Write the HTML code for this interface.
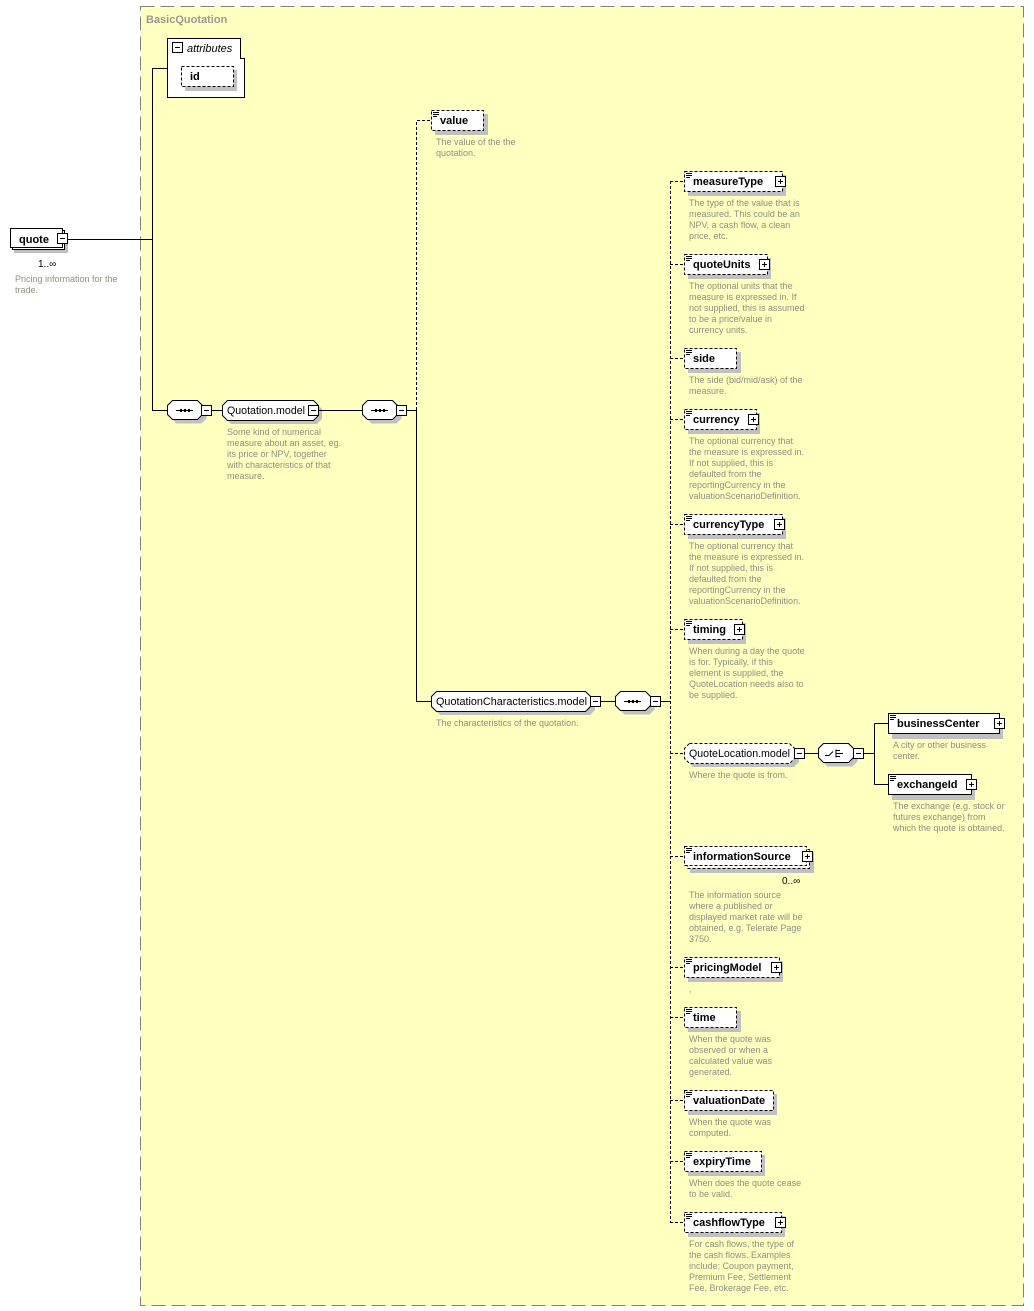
<!DOCTYPE html>
<html><head><meta charset="utf-8">
<style>
html,body{margin:0;padding:0;background:#fff;}
svg{display:block;}
.n{font:bold 11px "Liberation Sans",sans-serif;fill:#000;}
.m{font:11px "Liberation Sans",sans-serif;fill:#000;}
.d{font:9px "Liberation Sans",sans-serif;fill:#8f8f80;}
.sh{fill:#c0c0c0;}
.bx{fill:#fff;stroke:#000;stroke-width:1;}
.dash{stroke-dasharray:3,2;}
.ln{stroke:#000;stroke-width:1;fill:none;}
</style></head><body>
<svg width="1034" height="1311" viewBox="0 0 1034 1311" xmlns="http://www.w3.org/2000/svg">
<defs>
<g id="pl"><rect x="0.5" y="0.5" width="10" height="10" fill="#fff" stroke="#000"/><path d="M3 5.5h5M5.5 3v5" stroke="#000"/></g>
<g id="mi"><rect x="0.5" y="0.5" width="10" height="10" fill="#fff" stroke="#000"/><path d="M3 5.5h5" stroke="#000"/></g>
<g id="ic"><path d="M0 0.5h6M0 2.5h6M0 4.5h4" stroke="#000"/></g>
<g id="seq"><path d="M5.5,0.5 H30.5 L35.5,5.5 V14.5 L30.5,19.5 H5.5 L0.5,14.5 V5.5 Z"/></g>
</defs>
<rect x="140.5" y="6.5" width="883" height="1299" fill="#ffffc0" stroke="#808080" stroke-dasharray="14,6"/>
<text x="146" y="23" style="font:bold 11px 'Liberation Sans',sans-serif;fill:#999">BasicQuotation</text>

<rect x="14" y="233" width="54" height="20" class="sh"/>
<rect x="12.5" y="230.5" width="52" height="19" class="bx"/>
<rect x="10.5" y="228.5" width="52" height="19" class="bx"/>
<text x="19" y="243" class="n">quote</text>
<use href="#mi" x="57" y="233"/>
<text x="38" y="267" class="m" style="font-size:10px">1..∞</text>
<text x="15" y="282" class="d">Pricing information for the</text>
<text x="15" y="293" class="d">trade.</text>

<path d="M68 239.5H152.5M152.5 68V410.5H167M152.5 68.5H167" class="ln"/>

<path d="M167.5 38.5H240.5V58.5H244.5V97.5H167.5Z" class="bx"/>
<use href="#mi" x="172" y="42"/>
<text x="187" y="52" style="font:italic 11px 'Liberation Sans',sans-serif">attributes</text>
<rect x="185" y="70" width="52" height="21" class="sh"/>
<rect x="181.5" y="66.5" width="52" height="20" class="bx dash"/>
<text x="190" y="80" class="n">id</text>

<g transform="translate(171,404)" class="sh"><use href="#seq"/></g>
<g transform="translate(167,400)" class="bx"><use href="#seq"/></g>
<path d="M176 410.5h17" stroke="#000"/><path d="M180 410.5h2M184 410.5h2M188 410.5h2" stroke="#000" stroke-width="3"/>
<use href="#mi" x="201" y="405"/>
<path d="M211 410.5H222" class="ln"/>
<g transform="translate(226,404)"><path class="sh" d="M5,0 H91 L96,5 V15 L91,20 H5 L0,15 V5 Z"/></g>
<path class="bx" d="M227.5,400.5 H313.5 L318.5,405.5 V415.5 L313.5,420.5 H227.5 L222.5,415.5 V405.5 Z"/>
<text x="227" y="414" class="m" textLength="78" lengthAdjust="spacingAndGlyphs">Quotation.model</text>
<use href="#mi" x="308" y="405"/>
<text x="227" y="435" class="d">Some kind of numerical</text>
<text x="227" y="446" class="d">measure about an asset, eg.</text>
<text x="227" y="457" class="d">its price or NPV, together</text>
<text x="227" y="468" class="d">with characteristics of that</text>
<text x="227" y="479" class="d">measure.</text>
<path d="M319 410.5H362" class="ln"/>
<g transform="translate(366,404)" class="sh"><use href="#seq"/></g>
<g transform="translate(362,400)" class="bx"><use href="#seq"/></g>
<path d="M371 410.5h17" stroke="#000"/><path d="M375 410.5h2M379 410.5h2M383 410.5h2" stroke="#000" stroke-width="3"/>
<use href="#mi" x="396" y="405"/>
<path d="M407 410.5H416.5V701.5H431" class="ln"/>
<path d="M416.5 410V120.5H431" class="ln dash"/>

<rect x="435" y="114" width="53" height="21" class="sh"/>
<rect x="431.5" y="110.5" width="52" height="20" class="bx dash"/>
<use href="#ic" x="433" y="112"/>
<text x="440" y="124" class="n">value</text>
<text x="436" y="145" class="d">The value of the the</text>
<text x="436" y="156" class="d">quotation.</text>

<path class="sh" d="M440,695 H590 L595,700 V710 L590,715 H440 L435,710 V700 Z"/>
<path class="bx" d="M436.5,691.5 H585.5 L590.5,696.5 V706.5 L585.5,711.5 H436.5 L431.5,706.5 V696.5 Z"/>
<text x="436" y="705" class="m" textLength="151" lengthAdjust="spacingAndGlyphs">QuotationCharacteristics.model</text>
<use href="#mi" x="590" y="696"/>
<text x="436" y="726" class="d">The characteristics of the quotation.</text>
<path d="M601 701.5H615" class="ln"/>
<g transform="translate(619,695)" class="sh"><use href="#seq"/></g>
<g transform="translate(615,691)" class="bx"><use href="#seq"/></g>
<path d="M624 701.5h17" stroke="#000"/><path d="M628 701.5h2M632 701.5h2M636 701.5h2" stroke="#000" stroke-width="3"/>
<use href="#mi" x="650" y="696"/>
<path d="M661 701.5H670.5" class="ln"/>
<path d="M670.5 181V1222.5" class="ln dash"/>
<path d="M670 181.5H684M670 264.5H684M670 358.5H684M670 419.5H684M670 524.5H684M670 629.5H684M670 753.5H684M670 856.5H684M670 967.5H684M670 1017.5H684M670 1100.5H684M670 1161.5H684M670 1222.5H684" class="ln dash"/>

<rect x="688" y="175" width="98" height="21" class="sh"/>
<rect x="684.5" y="171.5" width="98" height="20" class="bx dash"/>
<use href="#ic" x="686" y="173"/><text x="693" y="185" class="n">measureType</text>
<use href="#pl" x="775" y="176"/>
<text x="689" y="206" class="d">The type of the value that is</text>
<text x="689" y="217" class="d">measured. This could be an</text>
<text x="689" y="228" class="d">NPV, a cash flow, a clean</text>
<text x="689" y="239" class="d">price, etc.</text>

<rect x="688" y="258" width="83" height="21" class="sh"/>
<rect x="684.5" y="254.5" width="83" height="20" class="bx dash"/>
<use href="#ic" x="686" y="256"/><text x="693" y="268" class="n">quoteUnits</text>
<use href="#pl" x="759" y="259"/>
<text x="689" y="289" class="d">The optional units that the</text>
<text x="689" y="300" class="d">measure is expressed in. If</text>
<text x="689" y="311" class="d">not supplied, this is assumed</text>
<text x="689" y="322" class="d">to be a price/value in</text>
<text x="689" y="333" class="d">currency units.</text>

<rect x="688" y="352" width="53" height="21" class="sh"/>
<rect x="684.5" y="348.5" width="52" height="20" class="bx dash"/>
<use href="#ic" x="686" y="350"/><text x="693" y="362" class="n">side</text>
<text x="689" y="383" class="d">The side (bid/mid/ask) of the</text>
<text x="689" y="394" class="d">measure.</text>

<rect x="688" y="413" width="72" height="21" class="sh"/>
<rect x="684.5" y="409.5" width="72" height="20" class="bx dash"/>
<use href="#ic" x="686" y="411"/><text x="693" y="423" class="n">currency</text>
<use href="#pl" x="748" y="414"/>
<text x="689" y="444" class="d">The optional currency that</text>
<text x="689" y="455" class="d">the measure is expressed in.</text>
<text x="689" y="466" class="d">If not supplied, this is</text>
<text x="689" y="477" class="d">defaulted from the</text>
<text x="689" y="488" class="d">reportingCurrency in the</text>
<text x="689" y="499" class="d">valuationScenarioDefinition.</text>

<rect x="688" y="518" width="98" height="21" class="sh"/>
<rect x="684.5" y="514.5" width="98" height="20" class="bx dash"/>
<use href="#ic" x="686" y="516"/><text x="693" y="528" class="n">currencyType</text>
<use href="#pl" x="774" y="519"/>
<text x="689" y="549" class="d">The optional currency that</text>
<text x="689" y="560" class="d">the measure is expressed in.</text>
<text x="689" y="571" class="d">If not supplied, this is</text>
<text x="689" y="582" class="d">defaulted from the</text>
<text x="689" y="593" class="d">reportingCurrency in the</text>
<text x="689" y="604" class="d">valuationScenarioDefinition.</text>

<rect x="688" y="623" width="58" height="21" class="sh"/>
<rect x="684.5" y="619.5" width="58" height="20" class="bx dash"/>
<use href="#ic" x="686" y="621"/><text x="693" y="633" class="n">timing</text>
<use href="#pl" x="734" y="624"/>
<text x="689" y="654" class="d">When during a day the quote</text>
<text x="689" y="665" class="d">is for. Typically, if this</text>
<text x="689" y="676" class="d">element is supplied, the</text>
<text x="689" y="687" class="d">QuoteLocation needs also to</text>
<text x="689" y="698" class="d">be supplied.</text>

<path class="sh" d="M693,747 H794 L799,752 V762 L794,767 H693 L688,762 V752 Z"/>
<path class="bx dash" d="M689.5,743.5 H789.5 L794.5,748.5 V758.5 L789.5,763.5 H689.5 L684.5,758.5 V748.5 Z"/>
<text x="689" y="757" class="m" textLength="101" lengthAdjust="spacingAndGlyphs">QuoteLocation.model</text>
<use href="#mi" x="794" y="748"/>
<text x="689" y="778" class="d">Where the quote is from.</text>
<path d="M805 753.5H818" class="ln"/>
<g transform="translate(822,747)" class="sh"><use href="#seq"/></g>
<g transform="translate(818,743)" class="bx"><use href="#seq"/></g>
<path d="M825 755.5h4l4-4M836 749.5v8M836 750.5h4M836 753.5h7M836 756.5h4" stroke="#000" fill="none"/>
<use href="#mi" x="853" y="748"/>
<path d="M864 753.5H874.5M874.5 723.5V784.5M874.5 723.5H888M874.5 784.5H888" class="ln"/>

<rect x="892" y="718" width="111" height="21" class="sh"/>
<rect x="888.5" y="713.5" width="111" height="20" class="bx"/>
<use href="#ic" x="890" y="715"/><text x="897" y="727" class="n">businessCenter</text>
<use href="#pl" x="994" y="718"/>
<text x="893" y="748" class="d">A city or other business</text>
<text x="893" y="759" class="d">center.</text>

<rect x="892" y="779" width="83" height="21" class="sh"/>
<rect x="888.5" y="774.5" width="83" height="20" class="bx"/>
<use href="#ic" x="890" y="776"/><text x="897" y="788" class="n">exchangeId</text>
<use href="#pl" x="966" y="779"/>
<text x="893" y="809" class="d">The exchange (e.g. stock or</text>
<text x="893" y="820" class="d">futures exchange) from</text>
<text x="893" y="831" class="d">which the quote is obtained.</text>

<rect x="690" y="852" width="124" height="21" class="sh"/>
<rect x="687.5" y="849.5" width="122" height="19" class="bx dash"/>
<rect x="684.5" y="846.5" width="122" height="19" class="bx dash"/>
<use href="#ic" x="686" y="848"/><text x="693" y="860" class="n">informationSource</text>
<use href="#pl" x="802" y="851"/>
<text x="782" y="884" class="m" style="font-size:10px">0..∞</text>
<text x="689" y="898" class="d">The information source</text>
<text x="689" y="909" class="d">where a published or</text>
<text x="689" y="920" class="d">displayed market rate will be</text>
<text x="689" y="931" class="d">obtained, e.g. Telerate Page</text>
<text x="689" y="942" class="d">3750.</text>

<rect x="688" y="961" width="95" height="21" class="sh"/>
<rect x="684.5" y="957.5" width="95" height="20" class="bx dash"/>
<use href="#ic" x="686" y="959"/><text x="693" y="971" class="n">pricingModel</text>
<use href="#pl" x="771" y="962"/>
<text x="689" y="992" class="d">,</text>

<rect x="688" y="1011" width="53" height="21" class="sh"/>
<rect x="684.5" y="1007.5" width="52" height="20" class="bx dash"/>
<use href="#ic" x="686" y="1009"/><text x="693" y="1021" class="n">time</text>
<text x="689" y="1042" class="d">When the quote was</text>
<text x="689" y="1053" class="d">observed or when a</text>
<text x="689" y="1064" class="d">calculated value was</text>
<text x="689" y="1075" class="d">generated.</text>

<rect x="688" y="1094" width="89" height="21" class="sh"/>
<rect x="684.5" y="1090.5" width="89" height="20" class="bx dash"/>
<use href="#ic" x="686" y="1092"/><text x="693" y="1104" class="n">valuationDate</text>
<text x="689" y="1125" class="d">When the quote was</text>
<text x="689" y="1136" class="d">computed.</text>

<rect x="688" y="1155" width="77" height="21" class="sh"/>
<rect x="684.5" y="1151.5" width="77" height="20" class="bx dash"/>
<use href="#ic" x="686" y="1153"/><text x="693" y="1165" class="n">expiryTime</text>
<text x="689" y="1186" class="d">When does the quote cease</text>
<text x="689" y="1197" class="d">to be valid.</text>

<rect x="688" y="1216" width="97" height="21" class="sh"/>
<rect x="684.5" y="1212.5" width="97" height="20" class="bx dash"/>
<use href="#ic" x="686" y="1214"/><text x="693" y="1226" class="n">cashflowType</text>
<use href="#pl" x="775" y="1217"/>
<text x="689" y="1247" class="d">For cash flows, the type of</text>
<text x="689" y="1258" class="d">the cash flows. Examples</text>
<text x="689" y="1269" class="d">include: Coupon payment,</text>
<text x="689" y="1280" class="d">Premium Fee, Settlement</text>
<text x="689" y="1291" class="d">Fee, Brokerage Fee, etc.</text>
</svg>
</body></html>
